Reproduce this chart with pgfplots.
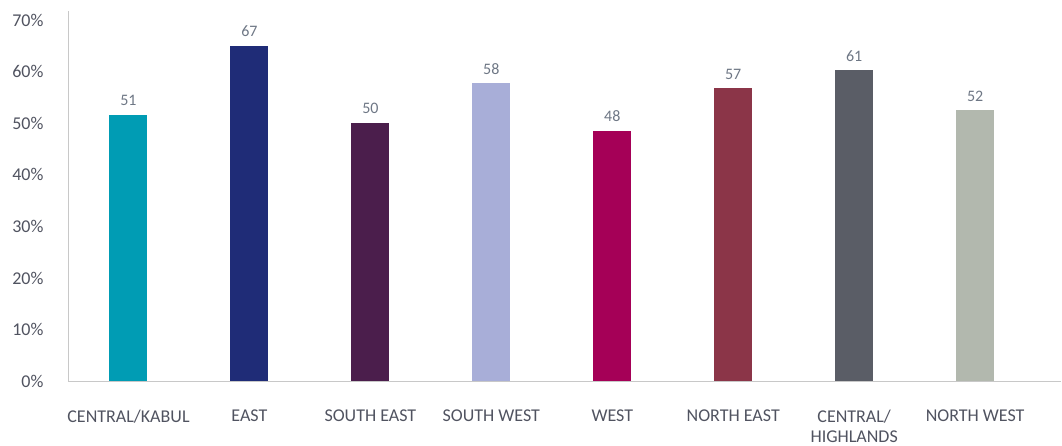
\documentclass[border=0pt]{standalone}
\usepackage{fontspec}
\setmainfont{Carlito}
\usepackage{pgfplots}
\pgfplotsset{compat=1.18}
\definecolor{c1}{HTML}{009CB4}
\definecolor{c2}{HTML}{1F2C77}
\definecolor{c3}{HTML}{4B1E4C}
\definecolor{c4}{HTML}{A8AED8}
\definecolor{c5}{HTML}{A50057}
\definecolor{c6}{HTML}{8B3548}
\definecolor{c7}{HTML}{5A5D66}
\definecolor{c8}{HTML}{B2B8AE}
\definecolor{ticktext}{HTML}{505360}
\definecolor{valtext}{HTML}{6E7785}
\definecolor{axisgray}{HTML}{C8C8C8}
\begin{document}
\begin{tikzpicture}
\begin{axis}[
  at={(68pt,64pt)}, anchor=south west,
  scale only axis, width=993pt, height=370pt,
  ymin=0, ymax=71.8, xmin=-0.5, xmax=7.71,
  ytick={0,10,...,70},
  yticklabel={\pgfmathprintnumber{\tick}\%},
  /pgf/number format/assume math mode=true,
  xtick={0,...,7},
  xticklabels={CENTRAL/KABUL, EAST, SOUTH EAST, SOUTH WEST, WEST, NORTH EAST, {CENTRAL/\\HIGHLANDS}, NORTH WEST},
  major tick length=0pt,
  tick style={draw=none},
  axis x line*=bottom, axis y line*=left,
  axis line style={-, draw=axisgray, line width=1pt},
  ticklabel style={font=\fontsize{18}{20}\selectfont, text=ticktext},
  yticklabel style={anchor=east, xshift=-21pt},
  xticklabel style={anchor=north, align=center, yshift=-25pt},
  ybar, bar width=38pt, bar shift=0pt,
  nodes near coords,
  point meta=explicit symbolic,
  every node near coord/.append style={font=\fontsize{16}{18}\selectfont, text=valtext, anchor=center, yshift=14pt},
  clip=false,
]
\addplot[fill=c1, draw=none] coordinates {(0,51.7) [51]};
\addplot[fill=c2, draw=none] coordinates {(1,65.1) [67]};
\addplot[fill=c3, draw=none] coordinates {(2,50.1) [50]};
\addplot[fill=c4, draw=none] coordinates {(3,57.9) [58]};
\addplot[fill=c5, draw=none] coordinates {(4,48.6) [48]};
\addplot[fill=c6, draw=none] coordinates {(5,56.8) [57]};
\addplot[fill=c7, draw=none] coordinates {(6,60.3) [61]};
\addplot[fill=c8, draw=none] coordinates {(7,52.5) [52]};
\end{axis}
\pgfresetboundingbox
\useasboundingbox (0,0) rectangle (1062pt,445pt);
\end{tikzpicture}
\end{document}
